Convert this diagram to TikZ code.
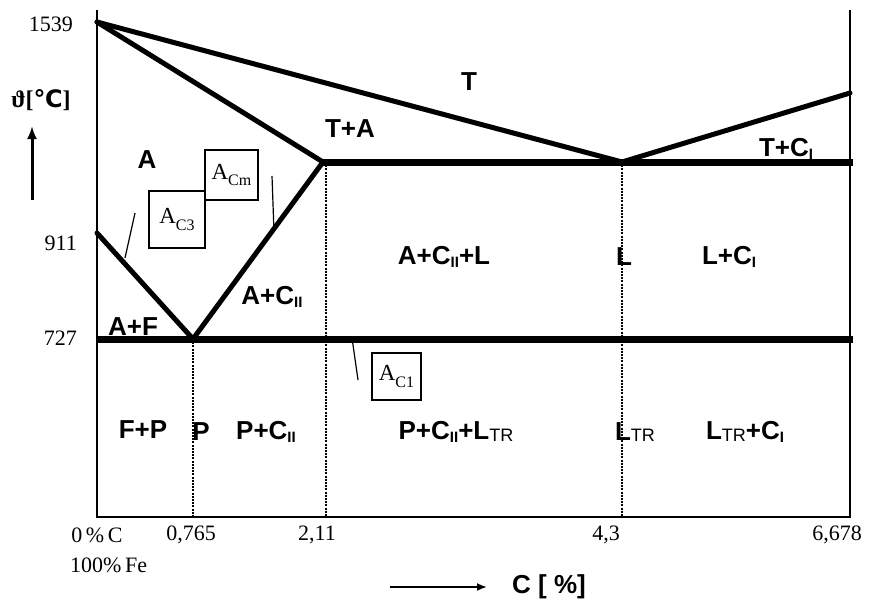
\documentclass[tikz,border=0pt]{standalone}
\usepackage{fontspec}
\usetikzlibrary{arrows.meta}
\setmainfont{Liberation Serif}
\newfontfamily\labfont{Liberation Sans}
\newfontfamily\symfont{DejaVu Sans}
\newcommand\ssub[1]{\raisebox{-0.1em}{\fontsize{15}{16}\selectfont #1}}
\newcommand\tsub[1]{\raisebox{-0.05em}{\fontsize{18}{19}\selectfont\mdseries #1}}
\newcommand\asub[1]{\raisebox{-0.3em}{\fontsize{16}{17}\selectfont #1}}
\begin{document}
\begin{tikzpicture}[x=1pt,y=-1pt,
  phase/.style={font=\labfont\bfseries\fontsize{26}{28}\selectfont, inner sep=0pt},
  num/.style={font=\fontsize{22}{24}\selectfont, inner sep=0pt},
  axisline/.style={line width=2.6pt},
  heavy/.style={line width=5pt, line cap=round},
  iso/.style={line width=7pt},
  dotline/.style={line width=1.4pt, dash pattern=on 2pt off 1.2pt},
  leader/.style={line width=1.2pt},
  tagbox/.style={draw, line width=1.6pt, font=\fontsize{23}{25}\selectfont, inner sep=0pt}]
\useasboundingbox (0,0) rectangle (873,600);
% key points
\coordinate (LT) at (97,10);
\coordinate (O) at (97,517);
\coordinate (RB) at (850,517);
\coordinate (RTop) at (850,10);
\coordinate (M) at (97,22);
\coordinate (E) at (622,162);
\coordinate (R) at (850,93);
\coordinate (S) at (323,162);
\coordinate (RT) at (853,162);
\coordinate (G) at (97,233);
\coordinate (P) at (193,339);
\coordinate (L7) at (97,339);
\coordinate (R7) at (853,339);
\coordinate (Pb) at (193,517);
\coordinate (S2) at (326,162);
\coordinate (S2b) at (326,517);
\coordinate (Eb) at (622,517);
% axes / frame
\draw[axisline] (LT) -- (O) -- (RB) -- (RTop);
% dotted verticals
\draw[dotline] (P) -- (Pb);
\draw[dotline] (S2) -- (S2b);
\draw[dotline] (E) -- (Eb);
% phase lines
\draw[heavy] (M) -- (E) -- (R);
\draw[heavy] (M) -- (S);
\draw[heavy] (G) -- (P) -- (S);
\draw[iso] (S) -- (RT);
\draw[iso] (L7) -- (R7);
% leaders
\coordinate (a3a) at (125,258); \coordinate (a3b) at (135,213);
\coordinate (ama) at (272,176); \coordinate (amb) at (274,232);
\coordinate (a1a) at (352,338); \coordinate (a1b) at (358,380);
\draw[leader] (a3a) -- (a3b);
\draw[leader] (ama) -- (amb);
\draw[leader] (a1a) -- (a1b);
% tag boxes
\node[tagbox, minimum width=56pt, minimum height=57pt] (ac3) at (177,219.5) {A\asub{C3}};
\node[tagbox, minimum width=53pt, minimum height=50pt] (acm) at (231.5,175) {A\asub{Cm}};
\node[tagbox, minimum width=49pt, minimum height=47pt] (ac1) at (396.5,376.5) {A\asub{C1}};
% axis labels
\node[num, anchor=east] (t1539) at (73,24) {1539};
\node[num, anchor=east] (t911) at (77,243) {911};
\node[num, anchor=east] (t727) at (77,338) {727};
\node[font=\fontsize{24}{26}\selectfont\bfseries, inner sep=0pt] (theta) at (41,100) {ϑ[{\symfont\bfseries ℃}]};
\coordinate (arA) at (32,200); \coordinate (arB) at (32,126);
\draw[line width=3pt, -{Latex[length=13pt,width=10pt]}] (arA) -- (arB);
\node[num] (x0) at (97,535) {0\,\%\,C};
\node[num, anchor=west] (xfe) at (70,565) {100\%\,Fe};
\node[num] (x1) at (191,535) {0,765};
\node[num] (x2) at (317,535) {2,11};
\node[num] (x3) at (606,535) {4,3};
\node[num] (x4) at (837,535) {6,678};
\coordinate (caA) at (390,587); \coordinate (caB) at (487,587);
\draw[line width=1.8pt, -{Latex[length=10pt,width=8pt]}] (caA) -- (caB);
\node[phase, anchor=west] (cpct) at (512,587) {C [ \%]};
% phase labels
\node[phase] (T) at (469,82) {T};
\node[phase] (TA) at (350,129) {T+A};
\node[phase] (A) at (147,160) {A};
\node[phase] (TC) at (786,149) {T+C\ssub{I}};
\node[phase] (ACL) at (444,257) {A+C\ssub{II}+L};
\node[phase] (Lq) at (624,257) {L};
\node[phase] (LC) at (729,257) {L+C\ssub{I}};
\node[phase] (AC) at (272,297) {A+C\ssub{II}};
\node[phase] (AF) at (133,327) {A+F};
\node[phase] (FP) at (143,430) {F+P};
\node[phase] (Pp) at (201,432) {P};
\node[phase] (PC) at (266,432) {P+C\ssub{II}};
\node[phase] (PCL) at (456,432) {P+C\ssub{II}+L\tsub{TR}};
\node[phase] (LTR) at (635,432) {L\tsub{TR}};
\node[phase] (LTC) at (745,432) {L\tsub{TR}+C\ssub{I}};
\end{tikzpicture}
\end{document}
